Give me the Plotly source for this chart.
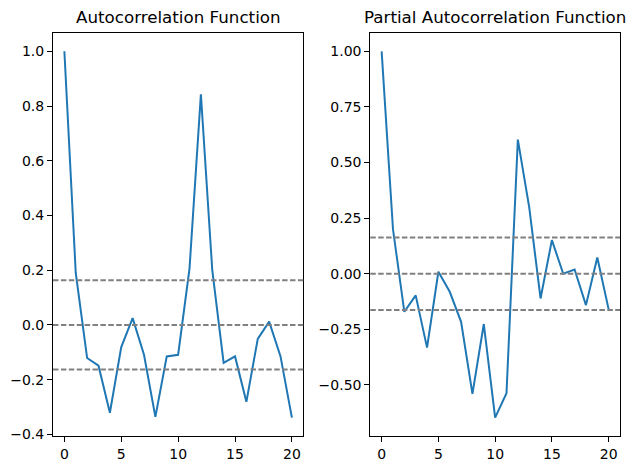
import plotly.graph_objects as go

lags = list(range(21))
acf_vals = [1.0, 0.19, -0.121, -0.149, -0.321, -0.081, 0.025, -0.109, -0.336, -0.115,
            -0.109, 0.206, 0.843, 0.20, -0.139, -0.115, -0.281, -0.051, 0.012, -0.115, -0.339]
pacf_vals = [1.0, 0.20, -0.171, -0.097, -0.332, 0.009, -0.081, -0.216, -0.540, -0.226,
             -0.647, -0.537, 0.603, 0.30, -0.111, 0.151, 0.0, 0.019, -0.141, 0.073, -0.160]
conf_band = [-0.1633, 0.0, 0.1633]
titles = ["Autocorrelation Function", "Partial Autocorrelation Function"]

BLUE = "#1f77b4"
FONT = "DejaVu Sans"

fig = go.Figure()
fig.add_trace(go.Scatter(x=lags, y=acf_vals, mode="lines", line=dict(color=BLUE, width=2),
                         xaxis="x", yaxis="y", showlegend=False))
fig.add_trace(go.Scatter(x=lags, y=pacf_vals, mode="lines", line=dict(color=BLUE, width=2),
                         xaxis="x2", yaxis="y2", showlegend=False))

for xr, yr in [("x", "y"), ("x2", "y2")]:
    for v in conf_band:
        fig.add_shape(type="line", xref=f"{xr} domain", yref=yr, x0=0, x1=1, y0=v, y1=v,
                      line=dict(color="gray", width=2, dash="5.5px,2.4px"), layer="above")

def rng(vals):
    lo, hi = min(vals), max(vals)
    m = (hi - lo) * 0.05
    return [lo - m, hi + m]

axis_common = dict(showline=True, mirror=True, linecolor="black", linewidth=1,
                   ticks="outside", ticklen=5, tickwidth=1, tickcolor="black",
                   showgrid=False, zeroline=False, automargin=False,
                   tickfont=dict(family=FONT, size=14, color="black"))

L0, L1 = 0.0, 0.4414
R0, R1 = 0.5596, 1.0
fig.update_layout(
    width=635, height=470,
    margin=dict(l=53, r=15, t=33, b=34, autoexpand=False),
    paper_bgcolor="white", plot_bgcolor="white",
    xaxis=dict(domain=[L0, L1], range=[-1, 21], tickvals=[0, 5, 10, 15, 20], anchor="y", **axis_common),
    yaxis=dict(domain=[0, 1], range=rng(acf_vals), tickvals=[-0.4, -0.2, 0, 0.2, 0.4, 0.6, 0.8, 1.0],
               tickformat=".1f", anchor="x", **axis_common),
    xaxis2=dict(domain=[R0, R1], range=[-1, 21], tickvals=[0, 5, 10, 15, 20], anchor="y2", **axis_common),
    yaxis2=dict(domain=[0, 1], range=rng(pacf_vals), tickvals=[-0.5, -0.25, 0, 0.25, 0.5, 0.75, 1.0],
                tickformat=".2f", anchor="x2", **axis_common),
    annotations=[
        dict(text=titles[0], xref="paper", yref="paper", x=(L0 + L1) / 2, y=1, yshift=4,
             xanchor="center", yanchor="bottom", showarrow=False,
             font=dict(family=FONT, size=16.7, color="black")),
        dict(text=titles[1], xref="paper", yref="paper", x=(R0 + R1) / 2, y=1, yshift=4,
             xanchor="center", yanchor="bottom", showarrow=False,
             font=dict(family=FONT, size=16.7, color="black")),
    ],
)

fig.write_html("out.html")
